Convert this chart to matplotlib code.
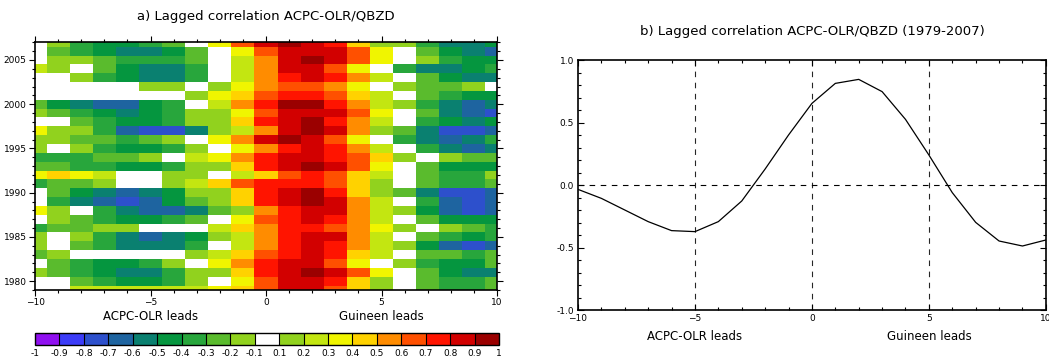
import numpy as np
import matplotlib
matplotlib.use("Agg")
import matplotlib.pyplot as plt
from matplotlib.colors import ListedColormap, BoundaryNorm
from matplotlib.ticker import MultipleLocator

lags = np.arange(-10, 11)
years = np.arange(1979, 2008)

# correlation per year (rows, 2007 first) and lag (-10..10)
corr_rows = [
    [0, -0.15, -0.35, -0.45, -0.45, -0.35, -0.25, 0, 0.35, 0.65, 0.85, 0.95, 0.85, 0.75, 0.45, 0.15, -0.15, -0.35, -0.55, -0.55, -0.45],  # 2007
    [0, -0.25, -0.35, -0.45, -0.55, -0.55, -0.45, -0.25, 0, 0.35, 0.65, 0.85, 0.85, 0.85, 0.65, 0.35, 0, -0.25, -0.45, -0.55, -0.65],   # 2006
    [0, -0.15, -0.15, -0.25, -0.35, -0.35, -0.35, -0.25, 0, 0.25, 0.55, 0.85, 0.95, 0.85, 0.65, 0.35, 0, -0.15, -0.35, -0.45, -0.45],   # 2005
    [0.25, 0.15, 0, -0.25, -0.45, -0.55, -0.55, -0.35, 0, 0.25, 0.55, 0.85, 0.85, 0.65, 0.35, 0, -0.35, -0.55, -0.55, -0.45, -0.35],   # 2004
    [0, 0, -0.15, -0.35, -0.45, -0.55, -0.55, -0.35, 0, 0.25, 0.55, 0.75, 0.85, 0.75, 0.55, 0.25, 0, -0.25, -0.45, -0.55, -0.55],      # 2003
    [0, 0, 0, 0, 0, -0.15, -0.15, 0, 0.15, 0.35, 0.55, 0.65, 0.65, 0.55, 0.35, 0, -0.15, -0.25, -0.25, -0.15, 0],                      # 2002
    [0, 0, 0, 0, 0, 0, 0, 0.15, 0.35, 0.45, 0.65, 0.75, 0.75, 0.65, 0.45, 0.25, 0, -0.25, -0.35, -0.45, -0.45],                         # 2001
    [-0.25, -0.45, -0.55, -0.65, -0.65, -0.45, -0.35, 0, 0.25, 0.55, 0.75, 0.95, 0.95, 0.75, 0.55, 0.25, 0.15, -0.35, -0.55, -0.65, -0.55],  # 2000
    [-0.15, -0.25, -0.35, -0.45, -0.55, -0.45, -0.35, -0.15, 0.15, 0.35, 0.65, 0.85, 0.85, 0.85, 0.65, 0.35, 0, -0.25, -0.55, -0.65, -0.75],  # 1999
    [0, 0, -0.25, -0.35, -0.45, -0.45, -0.35, -0.15, 0.15, 0.45, 0.75, 0.85, 0.95, 0.75, 0.55, 0.25, 0, -0.35, -0.45, -0.55, -0.45],   # 1998
    [0.35, 0.15, -0.15, -0.35, -0.65, -0.75, -0.75, -0.55, 0.15, 0.25, 0.55, 0.85, 0.95, 0.85, 0.55, 0.15, -0.25, -0.55, -0.75, -0.75, -0.65],  # 1997
    [-0.15, -0.15, -0.25, -0.25, -0.35, -0.25, -0.15, 0, 0.35, 0.55, 0.85, 0.95, 0.85, 0.65, 0.35, 0, -0.35, -0.55, -0.65, -0.55, -0.35],  # 1996
    [-0.15, 0, -0.15, -0.35, -0.45, -0.45, -0.35, -0.15, 0, 0.35, 0.55, 0.75, 0.85, 0.75, 0.55, 0.25, 0, -0.35, -0.55, -0.65, -0.55],  # 1995
    [-0.35, -0.35, -0.35, -0.25, -0.25, -0.15, 0, 0.25, 0.35, 0.55, 0.75, 0.85, 0.85, 0.75, 0.65, 0.45, 0.15, 0, -0.15, -0.25, -0.25],  # 1994
    [-0.25, -0.25, -0.35, -0.35, -0.45, -0.45, -0.35, -0.15, 0.15, 0.45, 0.75, 0.85, 0.95, 0.85, 0.65, 0.35, 0, -0.25, -0.45, -0.45, -0.45],  # 1993
    [0.35, 0.45, 0.35, 0.25, 0, 0, 0.15, 0.15, 0, 0.25, 0.45, 0.65, 0.75, 0.65, 0.45, 0.25, 0, -0.25, -0.35, -0.35, -0.15],          # 1992
    [-0.35, -0.25, -0.25, -0.15, 0, 0, 0.15, 0.25, 0.45, 0.65, 0.75, 0.75, 0.75, 0.65, 0.45, 0.15, 0, -0.25, -0.35, -0.35, -0.25],    # 1991
    [0, -0.25, -0.45, -0.55, -0.65, -0.55, -0.45, -0.15, 0.15, 0.45, 0.75, 0.85, 0.95, 0.75, 0.45, 0.15, -0.25, -0.55, -0.75, -0.75, -0.65],  # 1990
    [0, -0.35, -0.55, -0.65, -0.75, -0.65, -0.45, -0.25, -0.15, 0.45, 0.75, 0.85, 0.95, 0.85, 0.55, 0.25, 0, -0.35, -0.65, -0.75, -0.65],  # 1989
    [0.35, 0.15, 0, -0.35, -0.55, -0.65, -0.65, -0.55, -0.25, 0.15, 0.55, 0.75, 0.85, 0.85, 0.55, 0.25, -0.15, -0.45, -0.65, -0.75, -0.65],  # 1988
    [0, -0.15, -0.25, -0.35, -0.45, -0.45, -0.35, -0.25, 0, 0.35, 0.65, 0.75, 0.85, 0.75, 0.55, 0.25, 0, -0.25, -0.45, -0.45, -0.45],  # 1987
    [-0.35, -0.25, -0.25, -0.15, -0.15, 0, 0, 0, 0.25, 0.45, 0.55, 0.75, 0.75, 0.65, 0.55, 0.35, 0.15, 0, -0.15, -0.25, -0.35],       # 1986
    [-0.15, 0, -0.15, -0.35, -0.55, -0.65, -0.55, -0.45, 0.15, 0.25, 0.55, 0.75, 0.85, 0.85, 0.55, 0.25, 0, -0.25, -0.35, -0.45, -0.35],  # 1985
    [-0.15, 0, -0.25, -0.35, -0.55, -0.55, -0.55, -0.35, 0, 0.25, 0.55, 0.75, 0.85, 0.75, 0.55, 0.25, -0.15, -0.45, -0.65, -0.75, -0.65],  # 1984
    [-0.25, -0.15, 0, 0, 0, 0, 0, 0.15, 0.25, 0.45, 0.65, 0.75, 0.85, 0.75, 0.45, 0.25, 0, -0.25, -0.25, -0.35, -0.25],              # 1983
    [0, -0.25, -0.35, -0.45, -0.45, -0.35, -0.15, 0, 0.35, 0.55, 0.75, 0.85, 0.85, 0.65, 0.35, 0, -0.15, -0.35, -0.45, -0.45, -0.25],  # 1982
    [-0.15, -0.25, -0.35, -0.45, -0.55, -0.55, -0.35, -0.15, 0.15, 0.45, 0.75, 0.85, 0.95, 0.85, 0.65, 0.35, 0, -0.25, -0.45, -0.55, -0.55],  # 1981
    [0, 0, -0.25, -0.35, -0.45, -0.45, -0.35, -0.15, 0, 0.35, 0.65, 0.85, 0.85, 0.75, 0.45, 0.15, 0, -0.25, -0.35, -0.35, -0.25],     # 1980
    [0, 0, 0.25, 0.25, 0.25, 0.25, 0.25, 0.25, 0.35, 0.45, 0.65, 0.85, 0.85, 0.65, 0.45, 0.15, 0, -0.25, -0.35, -0.35, -0.25],        # 1979
]

# whole-period lagged correlation (panel b)
corr_mean = [-0.035, -0.107, -0.2, -0.293, -0.365, -0.373, -0.293, -0.128, 0.128, 0.40, 0.653,
             0.813, 0.845, 0.747, 0.525, 0.24, -0.061, -0.299, -0.448, -0.488, -0.44]

levels = [-1, -0.9, -0.8, -0.7, -0.6, -0.5, -0.4, -0.3, -0.2, -0.1,
          0.1, 0.2, 0.3, 0.4, 0.5, 0.6, 0.7, 0.8, 0.9, 1]
level_labels = ["-1", "-0.9", "-0.8", "-0.7", "-0.6", "-0.5", "-0.4", "-0.3", "-0.2", "-0.1",
                "0.1", "0.2", "0.3", "0.4", "0.5", "0.6", "0.7", "0.8", "0.9", "1"]
colors = ["#9010f0", "#3c3cf8", "#2d50cc", "#1e64a0", "#0a8070", "#05963f", "#28a63c",
          "#5abb2d", "#91d21e", "#ffffff", "#91d21e", "#c3e611", "#f0f500", "#ffd200",
          "#ff8c00", "#ff5000", "#ff1400", "#d20000", "#9b0000"]

cmap = ListedColormap(colors)
norm = BoundaryNorm(levels, cmap.N)

plt.rcParams["font.family"] = "DejaVu Sans"

fig = plt.figure(figsize=(10.49, 3.63), dpi=100)

# ---- panel a
ax = fig.add_axes([0.0334, 0.2011, 0.4404, 0.6824])
Z = np.array(corr_rows[::-1])
ax.pcolormesh(lags, years, Z, cmap=cmap, norm=norm, shading="nearest")
ax.set_xlim(-10, 10)
ax.set_ylim(1979, 2007)
ax.xaxis.set_major_locator(MultipleLocator(5))
ax.xaxis.set_minor_locator(MultipleLocator(1))
ax.yaxis.set_major_locator(MultipleLocator(5))
ax.yaxis.set_minor_locator(MultipleLocator(1))
ax.tick_params(which="both", direction="out", top=True, right=True, labelsize=6.5, width=0.8, pad=2)
ax.tick_params(which="major", length=4)
ax.tick_params(which="minor", length=2)
for s in ax.spines.values():
    s.set_linewidth(1.2)
ax.set_title("a) Lagged correlation ACPC-OLR/QBZD", fontsize=9.5, pad=16)
ax.text(-5, -0.107, "ACPC-OLR leads", transform=ax.get_xaxis_transform(), ha="center", va="center", fontsize=8.5)
ax.text(5, -0.107, "Guineen leads", transform=ax.get_xaxis_transform(), ha="center", va="center", fontsize=8.5)

# colorbar
cax = fig.add_axes([0.0334, 0.0496, 0.4423, 0.034])
cb = fig.colorbar(plt.cm.ScalarMappable(norm=norm, cmap=cmap), cax=cax, orientation="horizontal",
                  ticks=levels, spacing="uniform", drawedges=True)
cb.ax.set_xticklabels(level_labels)
cb.ax.tick_params(length=0, labelsize=6.5, pad=3)
cb.outline.set_linewidth(1.0)
cb.dividers.set_linewidth(0.8)

# ---- panel b
ax2 = fig.add_axes([0.551, 0.146, 0.446, 0.6887])
ax2.plot(lags, corr_mean, color="black", lw=0.9)
for xv in [-5, 0, 5]:
    ax2.axvline(xv, color="black", lw=0.8, ls=(0, (5, 5)), alpha=0.85)
ax2.axhline(0, color="black", lw=0.8, ls=(0, (5, 5)))
ax2.set_xlim(-10, 10)
ax2.set_ylim(-1, 1)
ax2.xaxis.set_major_locator(MultipleLocator(5))
ax2.xaxis.set_minor_locator(MultipleLocator(1))
ax2.yaxis.set_major_locator(MultipleLocator(0.5))
ax2.yaxis.set_minor_locator(MultipleLocator(0.1))
ax2.yaxis.set_major_formatter(matplotlib.ticker.FormatStrFormatter("%.1f"))
ax2.tick_params(which="both", direction="in", top=True, right=True, labelsize=6.5, width=0.8, pad=3)
ax2.tick_params(which="major", length=4)
ax2.tick_params(which="minor", length=2)
for s in ax2.spines.values():
    s.set_linewidth(1.2)
ax2.set_title("b) Lagged correlation ACPC-OLR/QBZD (1979-2007)", fontsize=9.5, pad=18)
ax2.text(-5, -0.104, "ACPC-OLR leads", transform=ax2.get_xaxis_transform(), ha="center", va="center", fontsize=8.5)
ax2.text(5, -0.104, "Guineen leads", transform=ax2.get_xaxis_transform(), ha="center", va="center", fontsize=8.5)

fig.savefig("out.png", dpi=100)
